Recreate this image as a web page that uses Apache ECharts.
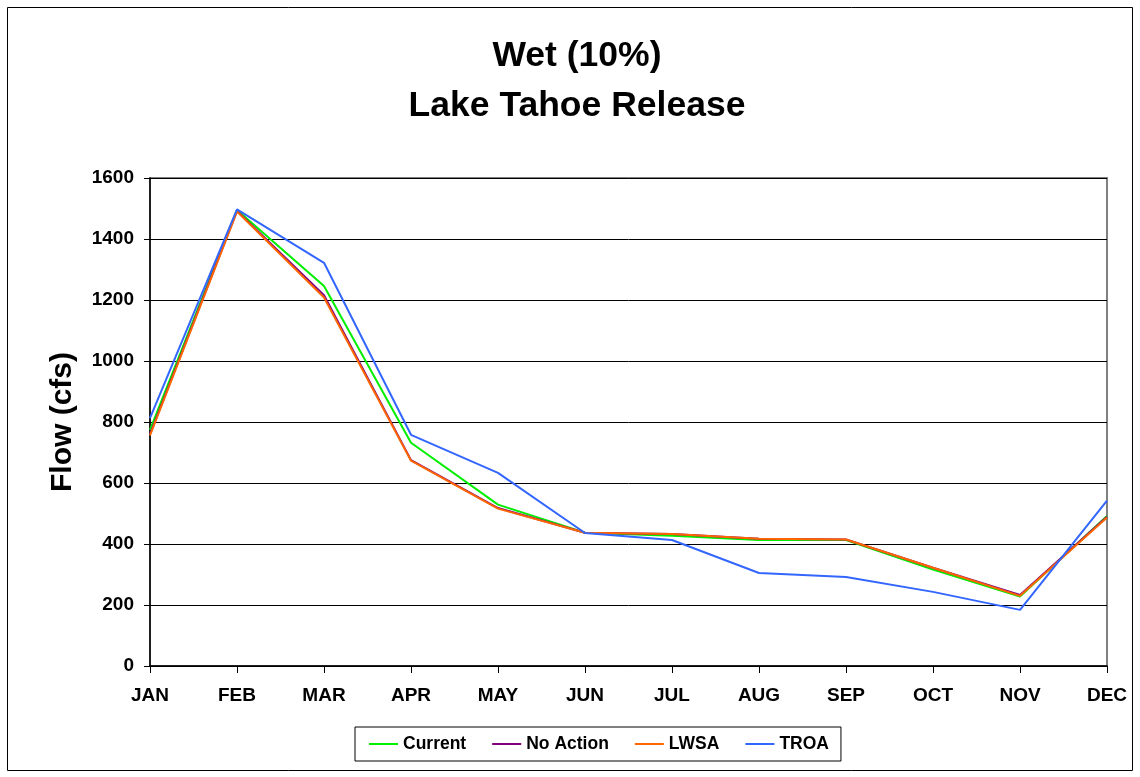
<!DOCTYPE html>
<html><head><meta charset="utf-8">
<script src="https://cdn.jsdelivr.net/npm/echarts@6/dist/echarts.min.js"></script>
<style>html,body{margin:0;padding:0;background:#fff}#c{width:1140px;height:777px}</style>
</head><body><div id="c"></div>
<script>
const months = ['JAN','FEB','MAR','APR','MAY','JUN','JUL','AUG','SEP','OCT','NOV','DEC'];
const current  = [774,1495,1246,732,529,437,427,413,413,316,228,492];
const noAction = [760,1492,1216,675,518,437,433,417,415,322,233,489];
const lwsa     = [756,1490,1208,673,516,437,433,417,415,322,230,487];
const troa     = [813,1497,1322,758,633,436,413,305,292,243,184,542];
const yTicks = [0,200,400,600,800,1000,1200,1400,1600];

const font = 'Arial, "Liberation Sans", sans-serif';
const chart = echarts.init(document.getElementById('c'));
function s(name, data, color){
  return {name, type:'line', data, symbol:'none', smooth:false,
    lineStyle:{color, width:2}, itemStyle:{color}};
}
chart.setOption({
  animation:false,
  backgroundColor:'#fff',
  title:{text:'Wet (10%)\nLake Tahoe Release', left:572, textAlign:'center', top:26,
    textStyle:{fontFamily:font, fontWeight:'bold', fontSize:35.5, lineHeight:50, color:'#000'}},
  graphic:[{type:'rect', shape:{x:7.5,y:7.5,width:1125,height:763}, style:{fill:null, stroke:'#000', lineWidth:1}, z:-1}],
  legend:{left:355, top:727, padding:[8,12,8,14], itemGap:26,
    borderColor:'#000', borderWidth:1, itemWidth:29, itemHeight:2, icon:'rect',
    textStyle:{fontFamily:font, fontWeight:'bold', fontSize:17.5, lineHeight:18, color:'#000', padding:[0,0,0,0]},
    data:['Current','No Action','LWSA','TROA']},
  grid:{left:150, right:33, top:178, bottom:111, show:true, borderColor:'#808080', borderWidth:2, backgroundColor:'#fff'},
  xAxis:{type:'category', data:months, boundaryGap:false,
    axisLine:{lineStyle:{color:'#000', width:1.5}},
    axisTick:{show:true, length:7, lineStyle:{color:'#000'}},
    axisLabel:{fontFamily:font, fontWeight:'bold', fontSize:19, color:'#000', margin:20, interval:0},
    splitLine:{show:false}},
  yAxis:{type:'value', min:0, max:1600, interval:200,
    name:'Flow (cfs)', nameLocation:'middle', nameGap:72, nameRotate:90,
    nameTextStyle:{fontFamily:font, fontWeight:'bold', fontSize:30, color:'#000'},
    axisLine:{show:true, lineStyle:{color:'#000', width:1.5}},
    axisTick:{show:true, length:6, lineStyle:{color:'#000'}},
    axisLabel:{fontFamily:font, fontWeight:'bold', fontSize:19, color:'#000', margin:16,
      formatter:v=> yTicks.includes(v)? String(v):''},
    splitLine:{show:true, lineStyle:{color:'#000', width:1}}},
  series:[
    s('Current', current, '#00ee00'),
    s('No Action', noAction, '#800080'),
    s('LWSA', lwsa, '#ff6600'),
    s('TROA', troa, '#3366ff')
  ]
});
</script></body></html>
